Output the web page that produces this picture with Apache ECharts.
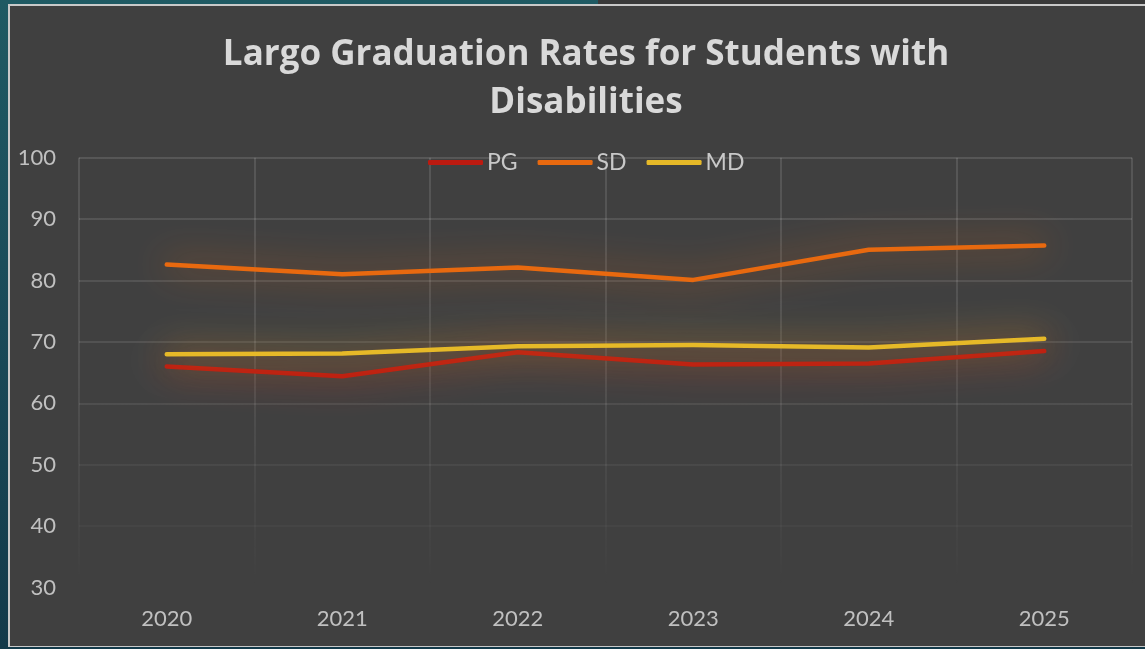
<!DOCTYPE html>
<html>
<head>
<meta charset="utf-8">
<script src="https://cdn.jsdelivr.net/npm/echarts@6/dist/echarts.min.js"></script>
<style>
html,body{margin:0;padding:0;width:1145px;height:649px;overflow:hidden;}
body{background:linear-gradient(180deg,#1f5a63 0%,#1a4a58 50%,#133a4a 100%);position:relative;}
#topright{position:absolute;left:598px;top:0;width:547px;height:4px;background:#3a3a3a;}
#panel{position:absolute;left:8px;top:4px;width:1137px;height:643px;background:#404040;border-left:2px solid #c9c9c9;border-top:2px solid #c9c9c9;border-bottom:1px solid #c9c9c9;box-sizing:border-box;}
#chart{position:absolute;left:0;top:0;width:1145px;height:649px;}
</style>
</head>
<body>
<div id="topright"></div>
<div id="panel"></div>
<div id="chart"></div>
<script>
const categories = ['2020','2021','2022','2023','2024','2025'];
const seriesNames = ['PG','SD','MD'];
const pgValues = [66.0, 64.4, 68.3, 66.3, 66.5, 68.5];
const sdValues = [82.6, 81.0, 82.1, 80.1, 85.0, 85.7];
const mdValues = [68.0, 68.1, 69.3, 69.5, 69.1, 70.5];
const yTicks = [30, 100, 10];
const titleText = 'Largo Graduation Rates for Students with\nDisabilities';

const colors = ['#BC1A10', '#E8690F', '#E6B928'];
const glow = ['rgba(205,35,20,1)', 'rgba(232,105,15,0.9)', 'rgba(230,185,40,0.9)'];
const values = [pgValues, sdValues, mdValues];
const font = 'Lato, "Open Sans", sans-serif';
const titleFont = '"Open Sans", Lato, sans-serif';

const gridGrad = {
  type: 'linear', x: 0, y: 157, x2: 0, y2: 587, global: true,
  colorStops: [
    {offset: 0, color: 'rgba(255,255,255,0.16)'},
    {offset: 0.5, color: 'rgba(255,255,255,0.12)'},
    {offset: 0.85, color: 'rgba(255,255,255,0.04)'},
    {offset: 1, color: 'rgba(255,255,255,0)'}
  ]
};

const chart = echarts.init(document.getElementById('chart'), null, {renderer: 'canvas'});
chart.setOption({
  backgroundColor: 'transparent',
  animation: false,
  title: {
    text: titleText,
    left: 581, top: 26,
    textAlign: 'center',
    textStyle: {color: '#d9d9d9', fontFamily: titleFont, fontSize: 35, fontWeight: 'bold', lineHeight: 48}
  },
  legend: {
    data: seriesNames,
    top: 146, left: 423,
    itemWidth: 55, itemHeight: 5, itemGap: 20,
    icon: 'roundRect',
    textStyle: {color: '#c8c8c8', fontFamily: font, fontSize: 23, padding: [0,0,0,-1]}
  },
  grid: {left: 79, right: 13, top: 157.7, bottom: 61.5, containLabel: false},
  xAxis: {
    type: 'category', data: categories, boundaryGap: true,
    axisLine: {show: false}, axisTick: {show: false},
    axisLabel: {color: '#c0c0c0', fontFamily: font, fontSize: 22, margin: 20},
    splitLine: {show: true, lineStyle: {color: gridGrad, width: 1.5}}
  },
  yAxis: {
    type: 'value', min: yTicks[0], max: yTicks[1], interval: yTicks[2],
    axisLine: {show: false}, axisTick: {show: false},
    axisLabel: {color: '#c0c0c0', fontFamily: font, fontSize: 22, margin: 23},
    splitLine: {show: true, lineStyle: {color: gridGrad, width: 1.5}}
  },
  series: seriesNames.map((n, i) => ({
    name: n, type: 'line', data: values[i],
    symbol: 'none', smooth: false,
    itemStyle: {color: colors[i]},
    lineStyle: {color: colors[i], width: 4.5, cap: 'round', join: 'round',
      shadowBlur: 36, shadowColor: glow[i]},
    z: i === 0 ? 3 : (i === 1 ? 2 : 4)
  }))
});
</script>
</body>
</html>
